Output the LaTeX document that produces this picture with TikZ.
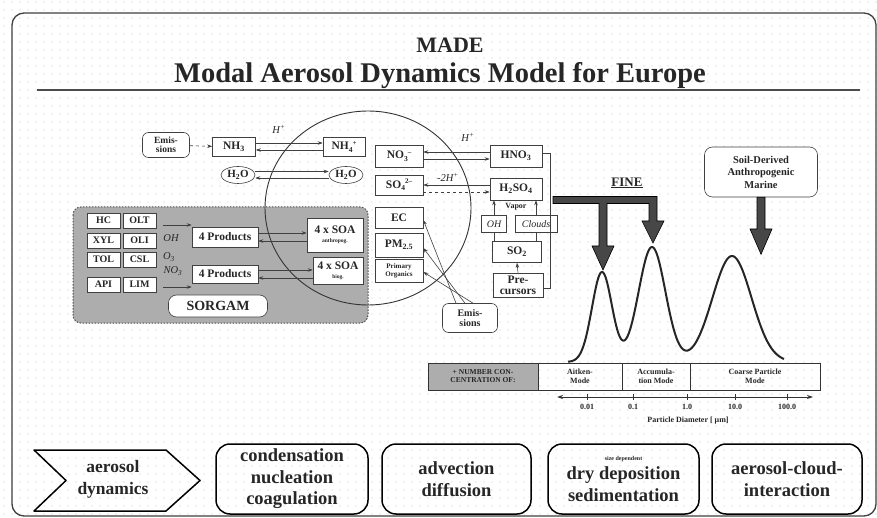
\documentclass[tikz,border=0pt]{standalone}
\usepackage{fontspec}
\setmainfont{Liberation Serif}
\usetikzlibrary{shapes.geometric,arrows.meta,patterns}
\pgfdeclarepatternformonly{sparsedots}{\pgfpoint{-1pt}{-1pt}}{\pgfpoint{9pt}{9pt}}{\pgfpoint{8pt}{8pt}}{\pgfpathcircle{\pgfpoint{4pt}{4pt}}{0.6pt}\pgfusepath{fill}}
\newcommand\fsz[2]{\fontsize{#1}{#2}\selectfont}
% ion: count as subscript, then the charge as superscript
\newcommand\ion[3]{#1\raisebox{-2.5pt}{\fsz{7.5}{7.5}#3}\raisebox{4.5pt}{\fsz{7}{7}#2}}
\begin{document}
\begin{tikzpicture}[x=1pt,y=-1pt,
  declare function={gs(\m,\s,\h,\t)=\h*exp(-min(((\t-\m)/\s)^2/2,9.5));},
  bx/.style={draw=black!75, fill=white, line width=0.6pt, inner sep=0.5pt, align=center,
             text=black!85, font=\fsz{11.5}{12}\bfseries},
  sm/.style={bx, minimum width=33, minimum height=15, font=\fsz{10}{11}\bfseries},
  rbx/.style={bx, rounded corners=6},
  arr/.style={-{Stealth[length=5pt,width=3.5pt]}, line width=0.6pt, draw=black!75},
  thinline/.style={line width=0.6pt, draw=black!75},
  ital/.style={font=\fsz{10.5}{11}\itshape, text=black!85, inner sep=0.5pt},
  big/.style={draw=black, line width=1.5pt, rounded corners=14, align=center,
              text=black!85, font=\fsz{18.5}{21.5}\bfseries, minimum height=70},
  cell/.style={draw=black!80, line width=0.8pt, minimum height=27, inner sep=0.5pt,
               align=center, text=black!85, font=\fsz{8}{9}\bfseries},
  fat/.style={fill=black!72, draw=black, line width=0.6pt},
  ticklab/.style={font=\fsz{8}{9}\bfseries, text=black!85, inner sep=0.5pt}]

\useasboundingbox (0,0) rectangle (877,518);
% paper with a faint dot screen
\fill[white] (0,0) rectangle (877,518);
\fill[pattern=sparsedots, pattern color=black!22] (0,0) rectangle (877,518);

% outer frame
\draw[line width=1.3pt, black!75, rounded corners=12] (12,13) rectangle (876,516);

% title
\node[anchor=base, font=\fsz{22}{24}\bfseries, text=black!85] (made) at (450,53) {MADE};
\node[anchor=base, font=\fsz{28.5}{30}\bfseries, text=black!85] (title) at (440,83) {Modal Aerosol Dynamics Model for Europe};
\draw[line width=1.2pt, black!70] (37,90) -- (860,90);

% SORGAM region
\draw[dash pattern=on 1.5pt off 1.5pt, line width=1pt, black!70, fill=black!32, rounded corners=8]
  (73,207) rectangle (368,323);

% the big circle
\draw[line width=0.9pt, black!80] (368,208) ellipse [x radius=103, y radius=97];

% precursor species
\node[sm] (hc)  at (103.5,220.5) {HC};
\node[sm] (olt) at (139.5,220.5) {OLT};
\node[sm] (xyl) at (103.5,240.5) {XYL};
\node[sm] (oli) at (139.5,240.5) {OLI};
\node[sm] (tol) at (103.5,259.5) {TOL};
\node[sm] (csl) at (139.5,259.5) {CSL};
\node[sm] (api) at (103.5,284.5) {API};
\node[sm] (lim) at (139.5,284.5) {LIM};

\node[bx, minimum width=66, minimum height=20] (prodA) at (225,237) {4 Products};
\node[bx, minimum width=66, minimum height=18] (prodB) at (225,274) {4 Products};
\node[bx, minimum width=56, minimum height=34] (soaA) at (335,235) {4 x SOA\\[-3pt]{\fsz{5.5}{6}anthropog.}};
\node[bx, minimum width=50, minimum height=27] (soaB) at (338,271) {4 x SOA\\[-3pt]{\fsz{5.5}{6}biog.}};
\node[rbx, rounded corners=8, minimum width=99, minimum height=22, font=\fsz{14}{15}\bfseries] (sorgam) at (218,306) {SORGAM};

\coordinate (oxA) at (163,225);
\coordinate (oxB) at (163,287);
\draw[arr] (oxA) -- (oxA -| prodA.west);
\draw[arr] (oxB) -- (oxB -| prodB.west);
\node[ital] (oh1) at (171,238) {OH};
\node[ital] (o3)  at (169,257) {O\textsubscript{3}};
\node[ital] (no3r) at (173,271) {NO\textsubscript{3}};

\draw[arr] ([yshift=4]prodA.east) -- ([yshift=4]prodA.east -| soaA.west);
\draw[arr] ([yshift=-4]prodA.east -| soaA.west) -- ([yshift=-4]prodA.east);
\draw[arr] ([yshift=4]prodB.east) -- ([yshift=4]prodB.east -| soaB.west);
\draw[arr] ([yshift=-4]prodB.east -| soaB.west) -- ([yshift=-4]prodB.east);

% ammonia and water
\node[rbx, minimum width=47, minimum height=25, font=\fsz{9.5}{9.5}\bfseries] (emA) at (166,145) {Emis-\\sions};
\node[bx, minimum width=43, minimum height=19] (nh3) at (234,147) {NH\textsubscript{3}};
\node[bx, minimum width=42, minimum height=19] (nh4) at (344,147) {\ion{NH}{+}{4}};
\draw[arr, dashed] (emA) -- (nh3);
\draw[arr] ([yshift=4]nh3.east) -- ([yshift=4]nh4.west);
\draw[arr] ([yshift=-3]nh4.west) -- ([yshift=-3]nh3.east);
\node[ital] (hp1) at (279,129) {H\textsuperscript{+}};

\node[ellipse, draw=black!75, line width=0.6pt, fill=white, inner sep=0, minimum width=34, minimum height=17,
      font=\fsz{11}{12}\bfseries, text=black!85] (waterA) at (238,175) {H\textsubscript{2}O};
\node[ellipse, draw=black!75, line width=0.6pt, fill=white, inner sep=0, minimum width=34, minimum height=17,
      font=\fsz{11}{12}\bfseries, text=black!85] (waterB) at (346,175) {H\textsubscript{2}O};
\draw[arr] ([yshift=3.5]waterA.east) -- ([yshift=3.5]waterB.west);
\draw[arr] ([yshift=-3]waterB.west) -- ([yshift=-3]waterA.east);

% particle-phase column
\node[bx, minimum width=48, minimum height=22] (no3) at (399,156) {\ion{NO}{--}{3}};
\node[bx, minimum width=48, minimum height=20] (so4) at (399,185) {\ion{SO}{2--}{4}};
\node[bx, minimum width=48, minimum height=21] (ec) at (399,218) {EC};
\node[bx, minimum width=48, minimum height=24] (pm) at (399,245) {PM\textsubscript{2.5}};
\node[bx, minimum width=48, minimum height=23, font=\fsz{7}{7.5}\bfseries] (porg) at (399,271) {Primary\\Organics};

% gas-phase column
\node[bx, minimum width=52, minimum height=22] (hno3) at (516,156) {HNO\textsubscript{3}};
\node[bx, minimum width=52, minimum height=22] (h2so4) at (516,189) {H\textsubscript{2}SO\textsubscript{4}};
\node[font=\fsz{8}{9}\bfseries, text=black!85, inner sep=0.5pt] (vapor) at (516,207) {Vapor};
\node[bx, minimum width=25, minimum height=17, font=\fsz{10}{11}\itshape] (ohb) at (494,224) {OH};
\node[bx, minimum width=42, minimum height=17, font=\fsz{10}{11}\itshape] (clouds) at (536,224) {Clouds};
\node[bx, minimum width=49, minimum height=21] (so2) at (517,252) {SO\textsubscript{2}};
\node[bx, minimum width=50, minimum height=24] (prec) at (518,285) {Pre-\\[-1pt]cursors};

\draw[arr] (ohb.north) -- (ohb.north |- h2so4.south);
\draw[thinline] (ohb.south |- so2.north) -- (ohb.south);
\draw[arr] (clouds.north) -- (clouds.north |- h2so4.south);
\draw[thinline] (clouds.south |- so2.north) -- (clouds.south);
\draw[arr] (prec.north) -- (so2.south);
\draw[thinline] ([yshift=3]hno3.east) -- ++(8,0) |- ([yshift=-3]prec.east);

\draw[arr] ([yshift=4]hno3.west) -- ([yshift=4]no3.east);
\draw[arr] ([yshift=-3]no3.east) -- ([yshift=-3]hno3.west);
\node[ital] (hp2) at (468,137) {H\textsuperscript{+}};
\draw[arr] ([yshift=4]h2so4.west) -- ([yshift=4]h2so4.west -| so4.east);
\draw[arr, dashed] ([yshift=-3]h2so4.west -| so4.east) -- ([yshift=-3]h2so4.west);
\node[ital] (hp3) at (448,177) {-2\textit{H}\textsuperscript{+}};

% primary emissions
\node[rbx, minimum width=55, minimum height=29, font=\fsz{10}{10.5}\bfseries] (emB) at (470,318) {Emis-\\sions};
\draw[arr] ([xshift=-14]emB.north) -- ([yshift=-2]ec.east);
\draw[arr] ([xshift=-5]emB.north) -- ([yshift=-3]pm.east);
\draw[arr] ([xshift=3]emB.north) -- ([yshift=-1]porg.east);

% size distribution with its sources
\node[font=\fsz{13}{14}\bfseries, text=black!85] (fine) at (627,183) {\underline{FINE}};
\node[rbx, rounded corners=8, minimum width=113, minimum height=50, font=\fsz{10.5}{12.5}\bfseries] (soil) at (761,172)
  {Soil-Derived\\Anthropogenic\\Marine};

\fill[fat] (553,196.5) -- (657,196.5) -- (657,221) -- (664,221) -- (653,243) -- (642,221) -- (649,221)
  -- (649,203.5) -- (607,203.5) -- (607,246) -- (614,246) -- (603,270) -- (592,246) -- (599,246)
  -- (599,203.5) -- (553,203.5) -- cycle;
\coordinate (soilfoot) at (soil.south);
\fill[fat] ([xshift=-4]soilfoot) -- ([xshift=-4]soilfoot |- 0,229) -- ([xshift=-11]soilfoot |- 0,229)
  -- ([yshift=-57]soilfoot) -- ([xshift=11]soilfoot |- 0,229) -- ([xshift=4]soilfoot |- 0,229)
  -- ([xshift=4]soilfoot) -- cycle;

\draw[line width=2pt, black!85, line join=round]
  plot[domain=568:784, samples=160, smooth]
  (\x, {362 - gs(602,10,90,\x) - gs(652,13.5,115,\x) - gs(732,19.5,106,\x)});

% mode table
\node[cell, fill=black!32, minimum width=110, font=\fsz{7.5}{8}\bfseries] (numcon) at (483,376.5) {+ NUMBER CON-\\CENTRATION OF:};
\node[cell, minimum width=84] (aitken) at (580,376.5) {Aitken-\\Mode};
\node[cell, minimum width=68] (accum) at (656,376.5) {Accumula-\\tion Mode};
\node[cell, minimum width=130] (coarse) at (755,376.5) {Coarse Particle\\Mode};

% diameter axis
\coordinate (axL) at (557,397);
\coordinate (axR) at (813,397);
\draw[{Stealth[length=6pt,width=4pt]}-{Stealth[length=6pt,width=4pt]}, line width=0.9pt, black!80] (axL) -- (axR);
\foreach \px/\lab [count=\i] in {587/0.01, 633/0.1, 687/1.0, 735/10.0, 787/100.0}{
  \draw[line width=0.7pt, black!80] (\px,394) -- (\px,400);
  \node[ticklab] (tick\i) at (\px,407) {\lab};
}
\node[ticklab] (diam) at (688,421) {Particle Diameter [ μm]};

% process row
\draw[line width=1.5pt, black, line join=round] (34,450) -- (166,450) -- (200,480.5) -- (166,511) -- (34,511) -- (66,480.5) -- cycle;
\node[align=center, text=black!85, font=\fsz{17.5}{22}\bfseries] (aero) at (113,479) {aerosol\\dynamics};
\node[big, minimum width=152] (cond) at (292,479) {condensation\\nucleation\\coagulation};
\node[big, minimum width=149] (adv) at (456.5,479) {advection\\diffusion};
\node[big, minimum width=151] (dry) at (623.5,479) {{\fsz{6}{6}size dependent}\\[-2pt]dry deposition\\sedimentation};
\node[big, minimum width=150] (acci) at (787,479) {aerosol-cloud-\\interaction};
\end{tikzpicture}
\end{document}
